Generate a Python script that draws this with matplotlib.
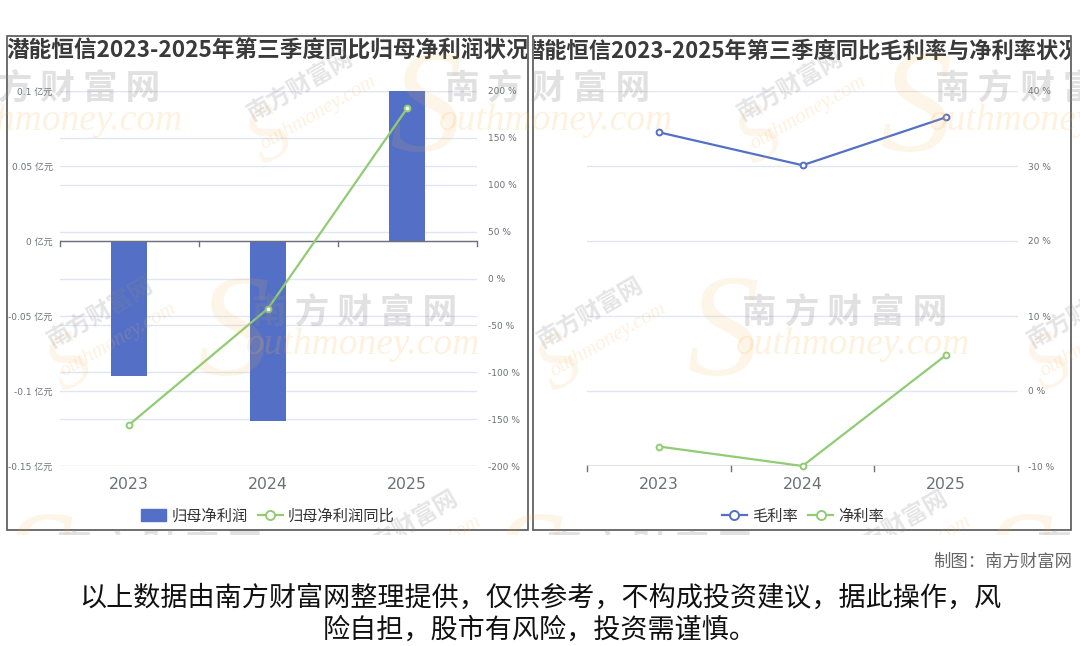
import matplotlib
matplotlib.use("Agg")
import matplotlib.pyplot as plt
from matplotlib.patches import Rectangle, Patch
from matplotlib.lines import Line2D
from matplotlib.transforms import blended_transform_factory

plt.rcParams['font.family'] = ['Noto Sans CJK SC', 'DejaVu Sans']

# ---- data ----
years = ['2023', '2024', '2025']
profit = [-0.09, -0.12, 0.10]            # 归母净利润, 亿元
profit_yoy = [-156.1, -32.0, 181.4]      # 归母净利润同比, %
gross_margin = [34.5, 30.1, 36.5]        # 毛利率, %
net_margin = [-7.4, -10.0, 4.8]          # 净利率, %

left_ticks = [0.1, 0.05, 0, -0.05, -0.1, -0.15]
left_tick_labels = ['0.1 亿元', '0.05 亿元', '0 亿元', '-0.05 亿元', '-0.1 亿元', '-0.15 亿元']
yoy_ticks = [200, 150, 100, 50, 0, -50, -100, -150, -200]
margin_ticks = [40, 30, 20, 10, 0, -10]

title_left = '潜能恒信2023-2025年第三季度同比归母净利润状况'
title_right = '潜能恒信2023-2025年第三季度同比毛利率与净利率状况'
credit = '制图：南方财富网'
disclaimer = ['以上数据由南方财富网整理提供，仅供参考，不构成投资建议，据此操作，风',
              '险自担，股市有风险，投资需谨慎。']

BLUE = '#5470C6'
GREEN = '#91CC75'
GRID = '#E0E6F1'
AXIS = '#6E7079'
LABEL = '#6E7079'
TICKFONT = ['DejaVu Sans', 'Noto Sans CJK SC']

W, H = 1080, 646
fig = plt.figure(figsize=(W / 100, H / 100), dpi=100)
fig.patch.set_facecolor('white')


def rect(x0, y0, x1, y1):
    return [x0 / W, 1 - y1 / H, (x1 - x0) / W, (y1 - y0) / H]


# background layer in pixel coordinates: panel frames and titles
bg = fig.add_axes([0, 0, 1, 1], zorder=0)
bg.set_xlim(0, W)
bg.set_ylim(H, 0)
bg.axis('off')

panels = [(7, 36, 528, 530, title_left, 16.3), (533, 36, 1071, 530, title_right, 16.0)]
for x0, y0, x1, y1, ttl, fs in panels:
    frame = Rectangle((x0, y0), x1 - x0, y1 - y0, fill=False,
                      edgecolor='#555555', lw=1.2, transform=bg.transData)
    bg.add_patch(frame)
    clip = Rectangle((x0 + 1, y0), x1 - x0 - 2, y1 - y0, transform=bg.transData)
    t = bg.text((x0 + x1) / 2, 51, ttl, ha='center', va='center',
                fontsize=fs, fontweight='bold', color='#3a3a3a', clip_on=True)
    t.set_clip_path(clip)


def style_axes(ax):
    for s in ax.spines.values():
        s.set_visible(False)
    ax.patch.set_alpha(0)


def cat_boundary_ticks(ax, y, length_px):
    # small tick marks at category boundaries, pointing downwards from the axis line
    y0, y1 = ax.get_ylim()
    h_px = ax.get_position().height * H
    dy = (y1 - y0) / h_px * length_px
    for b in [-0.5, 0.5, 1.5, 2.5]:
        ax.plot([b, b], [y, y - dy], color=AXIS, lw=1, zorder=4, clip_on=False)


# ---- left chart: 归母净利润 ----
ax1 = fig.add_axes(rect(59.5, 91, 476.5, 466), zorder=2)
style_axes(ax1)
ax1.set_xlim(-0.5, 2.5)
ax1.set_ylim(-0.15, 0.1)
ax2 = ax1.twinx()
style_axes(ax2)
ax2.set_ylim(-200, 200)
ax2.set_zorder(3)

# gridlines of both value axes sit underneath the bars
for v in left_ticks:
    ax1.axhline(v, color=GRID, lw=1, zorder=0)
yoy_grid = blended_transform_factory(ax1.transAxes, ax2.transData)
for v in yoy_ticks:
    ax1.plot([0, 1], [v, v], color=GRID, lw=1, zorder=0, transform=yoy_grid)

x = list(range(len(years)))
ax1.bar(x, profit, width=0.26, color=BLUE, zorder=3)
ax1.axhline(0, color=AXIS, lw=1, zorder=4)
cat_boundary_ticks(ax1, 0, 5)

ax2.plot(x, profit_yoy, color=GREEN, lw=1.6, marker='o', ms=4.2,
         mfc='white', mec=GREEN, mew=1.4, zorder=5)

ax1.set_yticks(left_ticks)
ax1.set_yticklabels(left_tick_labels, family=TICKFONT)
ax1.tick_params(axis='y', length=0, pad=5, labelsize=6.5, labelcolor=LABEL)
ax2.set_yticks(yoy_ticks)
ax2.set_yticklabels([f'{v} %' for v in yoy_ticks], family=TICKFONT)
ax2.tick_params(axis='y', length=0, pad=8, labelsize=6.5, labelcolor=LABEL)
ax1.set_xticks(x)
ax1.set_xticklabels(years, family=TICKFONT)
ax1.tick_params(axis='x', length=0, pad=8, labelsize=11.3, labelcolor=LABEL)

fig.legend(
    handles=[Patch(facecolor=BLUE, edgecolor=BLUE, label='归母净利润'),
             Line2D([], [], color=GREEN, lw=1.6, marker='o', ms=6.5, mfc='white',
                    mec=GREEN, mew=1.4, label='归母净利润同比')],
    loc='center', bbox_to_anchor=(268 / W, 1 - 516 / H), ncol=2, frameon=False,
    fontsize=11, handlelength=1.6, handleheight=0.8, handletextpad=0.35,
    columnspacing=0.7, labelcolor='#333333')

# ---- right chart: 毛利率 / 净利率 ----
ax3 = fig.add_axes(rect(587, 91, 1018, 466), zorder=2)
style_axes(ax3)
ax3.set_xlim(-0.5, 2.5)
ax3.set_ylim(-10, 40)
for v in margin_ticks[:-1]:
    ax3.axhline(v, color=GRID, lw=1, zorder=0)
ax3.axhline(-10, color=AXIS, lw=1, zorder=4)
cat_boundary_ticks(ax3, -10, 5)

ax3.plot(x, gross_margin, color=BLUE, lw=1.6, marker='o', ms=4.2,
         mfc='white', mec=BLUE, mew=1.4, zorder=5, clip_on=False)
ax3.plot(x, net_margin, color=GREEN, lw=1.6, marker='o', ms=4.2,
         mfc='white', mec=GREEN, mew=1.4, zorder=5, clip_on=False)

ax3.yaxis.tick_right()
ax3.set_yticks(margin_ticks)
ax3.set_yticklabels([f'{v} %' for v in margin_ticks], family=TICKFONT)
ax3.tick_params(axis='y', length=0, pad=7, labelsize=6.5, labelcolor=LABEL)
ax3.set_xticks(x)
ax3.set_xticklabels(years, family=TICKFONT)
ax3.tick_params(axis='x', length=0, pad=8, labelsize=11.3, labelcolor=LABEL)

fig.legend(
    handles=[Line2D([], [], color=BLUE, lw=1.6, marker='o', ms=6.5, mfc='white',
                    mec=BLUE, mew=1.4, label='毛利率'),
             Line2D([], [], color=GREEN, lw=1.6, marker='o', ms=6.5, mfc='white',
                    mec=GREEN, mew=1.4, label='净利率')],
    loc='center', bbox_to_anchor=(803 / W, 1 - 516 / H), ncol=2, frameon=False,
    fontsize=11, handlelength=1.6, handletextpad=0.35,
    columnspacing=0.7, labelcolor='#333333')

# ---- site watermark overlay, limited to the chart image area ----
ov = fig.add_axes([0, 0, 1, 1], zorder=10)
ov.set_xlim(0, W)
ov.set_ylim(H, 0)
ov.axis('off')
ov.patch.set_alpha(0)
wm_clip = Rectangle((0, 36), W, 499, transform=ov.transData)


def wm_text(x, y, s, **kw):
    t = ov.text(x, y, s, ha='center', va='center', clip_on=True, **kw)
    t.set_clip_path(wm_clip)
    return t


big_marks = [(58, 88), (548, 88), (1038, 88),
             (355, 312), (845, 312), (1335, 312),
             (160, 548), (650, 548), (1140, 548)]
for cx, cy in big_marks:
    wm_text(cx - 122, cy + 28, 'S', fontsize=105, style='italic',
            family='Liberation Serif', color='#F9B24E', alpha=0.12)
    wm_text(cx, cy, '南 方 财 富 网', fontsize=25, fontweight='bold',
            color='#8a8a8a', alpha=0.25)
    wm_text(cx + 8, cy + 33, 'outhmoney.com', fontsize=27, style='italic',
            family='Liberation Serif', color='#F9B24E', alpha=0.18)

small_marks = [(300, 85), (790, 85),
               (100, 312), (590, 312), (1080, 312),
               (405, 525), (895, 525)]
for cx, cy in small_marks:
    wm_text(cx - 30, cy + 55, 'S', fontsize=55, style='italic', rotation=30,
            family='Liberation Serif', color='#F9B24E', alpha=0.12)
    wm_text(cx, cy, '南方财富网', fontsize=17, fontweight='bold', rotation=30,
            color='#8a8a8a', alpha=0.22)
    wm_text(cx + 18, cy + 28, 'outhmoney.com', fontsize=15, style='italic',
            rotation=30, family='Liberation Serif', color='#F9B24E', alpha=0.18)

# ---- footer ----
fig.text(1072 / W, 1 - 562 / H, credit, ha='right', va='center',
         fontsize=12.5, color='#666666')
fig.text(540 / W, 1 - 598 / H, disclaimer[0], ha='center', va='center',
         fontsize=19.5, color='#111111')
fig.text(540 / W, 1 - 630 / H, disclaimer[1], ha='center', va='center',
         fontsize=19.5, color='#111111')

fig.savefig('out.png', dpi=100, facecolor='white')
